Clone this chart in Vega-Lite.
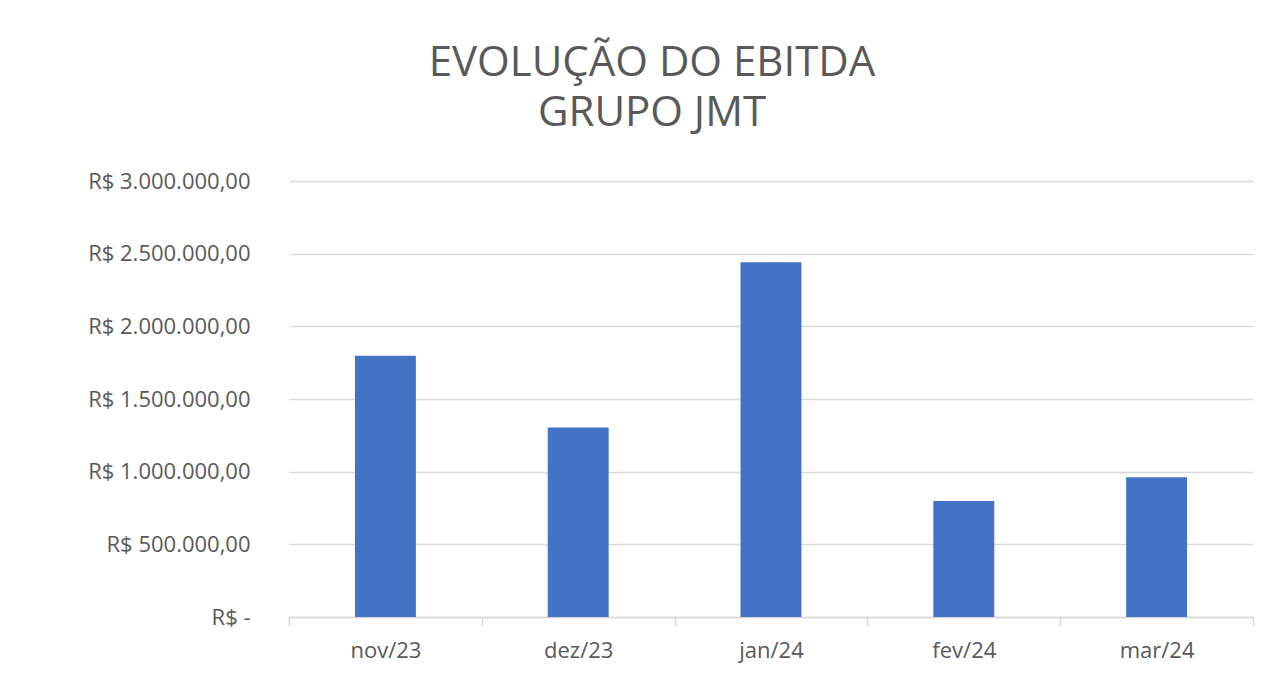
{
  "$schema": "https://vega.github.io/schema/vega-lite/v6.json",
  "width": 964,
  "height": 436,
  "autosize": {"type": "none"},
  "padding": {"left": 289, "top": 181, "right": 34, "bottom": 69},
  "background": "white",
  "title": {
    "text": ["EVOLUÇÃO DO EBITDA", "GRUPO JMT"],
    "font": "Open Sans",
    "fontSize": 42,
    "fontWeight": "normal",
    "color": "#595959",
    "lineHeight": 50,
    "anchor": "middle",
    "frame": "group",
    "baseline": "alphabetic",
    "dx": -119,
    "offset": 2
  },
  "data": {
    "values": [
      {"mes": "nov/23", "ebitda": 1797000},
      {"mes": "dez/23", "ebitda": 1304000},
      {"mes": "jan/24", "ebitda": 2441000},
      {"mes": "fev/24", "ebitda": 798000},
      {"mes": "mar/24", "ebitda": 961000}
    ]
  },
  "mark": {"type": "bar", "color": "#4472C4", "width": {"band": 0.316}},
  "encoding": {
    "x": {
      "field": "mes",
      "type": "nominal",
      "sort": null,
      "scale": {"paddingInner": 0, "paddingOuter": 0},
      "axis": {
        "title": null,
        "labelAngle": 0,
        "tickBand": "extent",
        "domainColor": "#D9D9D9",
        "domainWidth": 1.5,
        "tickColor": "#D9D9D9",
        "tickWidth": 1.5,
        "tickSize": 9,
        "labelColor": "#595959",
        "labelFont": "Open Sans",
        "labelFontSize": 22,
        "labelPadding": 14,
        "grid": false
      }
    },
    "y": {
      "field": "ebitda",
      "type": "quantitative",
      "scale": {"domain": [0, 3000000], "nice": false},
      "axis": {
        "title": null,
        "values": [0, 500000, 1000000, 1500000, 2000000, 2500000, 3000000],
        "format": "$,.2f",
        "labelExpr": "datum.value === 0 ? 'R$ -\u00a0\u00a0\u00a0' : datum.label",
        "domain": false,
        "ticks": false,
        "grid": true,
        "gridColor": "#D9D9D9",
        "gridWidth": 1.5,
        "labelColor": "#595959",
        "labelFont": "Open Sans",
        "labelFontSize": 22,
        "labelPadding": 39
      }
    }
  },
  "config": {
    "view": {"stroke": null},
    "locale": {
      "number": {
        "decimal": ",",
        "thousands": ".",
        "grouping": [3],
        "currency": ["R$ ", ""]
      }
    }
  }
}
